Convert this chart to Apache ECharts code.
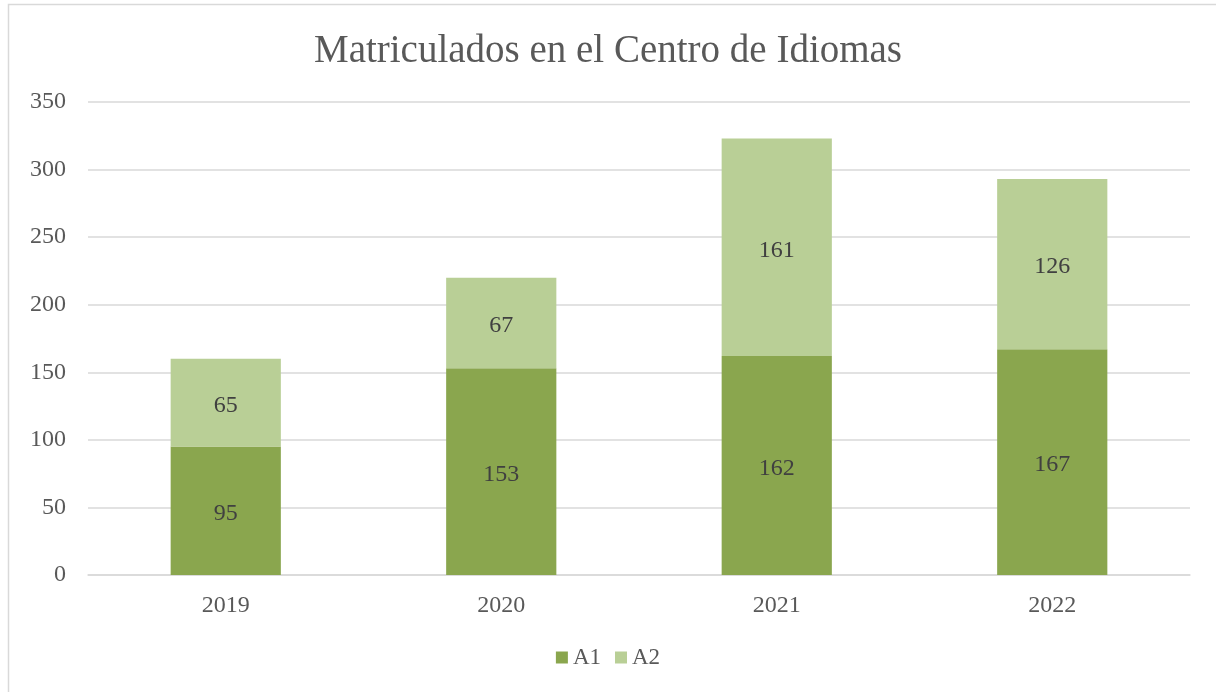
<!DOCTYPE html>
<html>
<head>
<meta charset="utf-8">
<script src="https://cdn.jsdelivr.net/npm/echarts@6/dist/echarts.min.js"></script>
<style>
html,body{margin:0;padding:0;background:#fff;}
#c{width:1216px;height:692px;}
</style>
</head>
<body>
<div id="c"></div>
<script>
const titleText = 'Matriculados en el Centro de Idiomas';
const categories = ['2019', '2020', '2021', '2022'];
const seriesNames = ['A1', 'A2'];
const a1Values = [95, 153, 162, 167];
const a2Values = [65, 67, 161, 126];

const FONT = '"Liberation Serif", "DejaVu Serif", serif';
const chart = echarts.init(document.getElementById('c'), null, {renderer: 'canvas'});
chart.setOption({
  backgroundColor: '#fff',
  animation: false,
  textStyle: {fontFamily: FONT},
  title: {
    text: titleText,
    left: 'center',
    top: 27,
    textStyle: {fontFamily: FONT, fontSize: 39, fontWeight: 'normal', color: '#595959'}
  },
  graphic: [{
    type: 'polyline',
    shape: {points: [[8.5, 692], [8.5, 4.5], [1216, 4.5]]},
    style: {stroke: '#d9d9d9', lineWidth: 1.5, fill: null},
    silent: true
  }],
  legend: {
    data: seriesNames,
    bottom: 18,
    left: 'center',
    itemWidth: 12,
    itemHeight: 12,
    itemGap: 14,
    icon: 'rect',
    textStyle: {fontFamily: FONT, fontSize: 23, color: '#595959'}
  },
  grid: {left: 88, right: 26, top: 102, bottom: 117, containLabel: false},
  xAxis: {
    type: 'category',
    data: categories,
    axisLine: {lineStyle: {color: '#d9d9d9', width: 1.5}},
    axisTick: {show: false},
    axisLabel: {fontFamily: FONT, fontSize: 24, color: '#595959', margin: 19}
  },
  yAxis: {
    type: 'value',
    min: 0, max: 350, interval: 50,
    axisLine: {show: false},
    axisTick: {show: false},
    splitLine: {lineStyle: {color: '#d9d9d9', width: 1.5}},
    axisLabel: {fontFamily: FONT, fontSize: 24, color: '#595959', margin: 22}
  },
  series: [
    {
      name: 'A1', type: 'bar', stack: 'total', data: a1Values, barWidth: '40%',
      itemStyle: {color: '#8aa64e'},
      label: {show: true, position: 'inside', offset: [0, 3], fontFamily: FONT, fontSize: 24, color: '#404040'}
    },
    {
      name: 'A2', type: 'bar', stack: 'total', data: a2Values, barWidth: '40%',
      itemStyle: {color: '#b9cf96'},
      label: {show: true, position: 'inside', offset: [0, 3], fontFamily: FONT, fontSize: 24, color: '#404040'}
    }
  ]
});
</script>
</body>
</html>
